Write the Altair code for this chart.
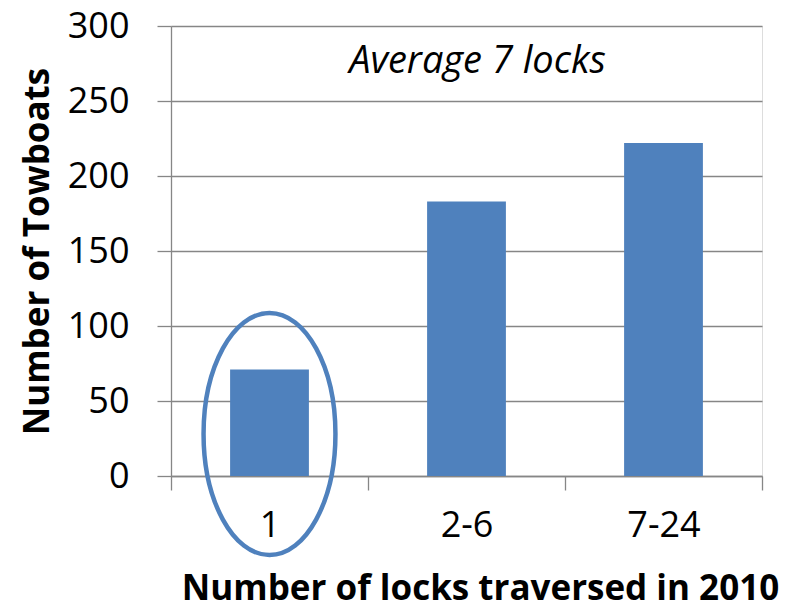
import altair as alt
import pandas as pd

categories = ["1", "2-6", "7-24"]
towboats = [71, 183, 222]

note_text = ["Average 7 locks"]
note_pos = ["2-6"]
note_y = [276]

highlight_cat = ["1"]
highlight_y = [28]

bars_df = pd.DataFrame({"locks": categories, "towboats": towboats})
note_df = pd.DataFrame({"locks": note_pos, "y": note_y, "label": note_text})
hl_df = pd.DataFrame({"locks": highlight_cat, "y": highlight_y})

BLUE = "#4F81BD"
GREY = "#868686"
FONT = "Open Sans"

x_enc = alt.X(
    "locks:N",
    sort=categories,
    scale=alt.Scale(paddingInner=0, paddingOuter=0),
    axis=alt.Axis(
        title="Number of locks traversed in 2010",
        labelAngle=0,
        labelFont=FONT,
        labelFontSize=36,
        labelColor="black",
        labelPadding=18,
        tickBand="extent",
        tickSize=14,
        tickColor=GREY,
        tickWidth=1.3,
        domainColor=GREY,
        domainWidth=1.3,
        titleFont=FONT,
        titleFontSize=35,
        titleFontWeight="bold",
        titleColor="black",
        titleX=309,
        titleY=112,
        titleBaseline="middle",
        titleAlign="center",
    ),
)

y_enc = alt.Y(
    "towboats:Q",
    scale=alt.Scale(domain=[0, 300], nice=False),
    axis=alt.Axis(
        title="Number of Towboats",
        values=[0, 50, 100, 150, 200, 250, 300],
        labelFont=FONT,
        labelFontSize=36,
        labelColor="black",
        labelPadding=28,
        tickSize=14,
        tickColor=GREY,
        tickWidth=1.3,
        domainColor=GREY,
        domainWidth=1.3,
        grid=True,
        gridColor=GREY,
        gridWidth=1.3,
        titleFont=FONT,
        titleFontSize=35,
        titleFontWeight="bold",
        titleColor="black",
        titleAngle=-90,
        titleX=-134,
        titleY=225,
        titleBaseline="middle",
        titleAlign="center",
    ),
)

bars = alt.Chart(bars_df).mark_bar(
    color=BLUE, width=alt.RelativeBandSize(0.4)
).encode(x=x_enc, y=y_enc)

note = alt.Chart(note_df).mark_text(
    font=FONT, fontSize=38, fontStyle="italic", color="black", dx=11, baseline="middle"
).encode(
    x=alt.X("locks:N", sort=categories),
    y=alt.Y("y:Q"),
    text="label:N",
)

ellipse_path = "M -0.545 0 A 0.545 1 0 1 1 0.545 0 A 0.545 1 0 1 1 -0.545 0 Z"
ellipse = alt.Chart(hl_df).mark_point(
    shape=ellipse_path,
    size=58564,
    filled=False,
    stroke=BLUE,
    strokeWidth=4.5,
    opacity=1,
).encode(
    x=alt.X("locks:N", sort=categories),
    y=alt.Y("y:Q"),
)

chart = (
    alt.layer(bars, note, ellipse)
    .properties(
        width=591,
        height=450,
        autosize=alt.AutoSizeParams(type="none"),
        padding={"left": 171, "top": 26, "right": 42, "bottom": 132},
    )
    .configure_view(stroke=None)
    .configure(background="white")
)

chart.save("out.html", embed_options={"renderer": "svg", "actions": False})
